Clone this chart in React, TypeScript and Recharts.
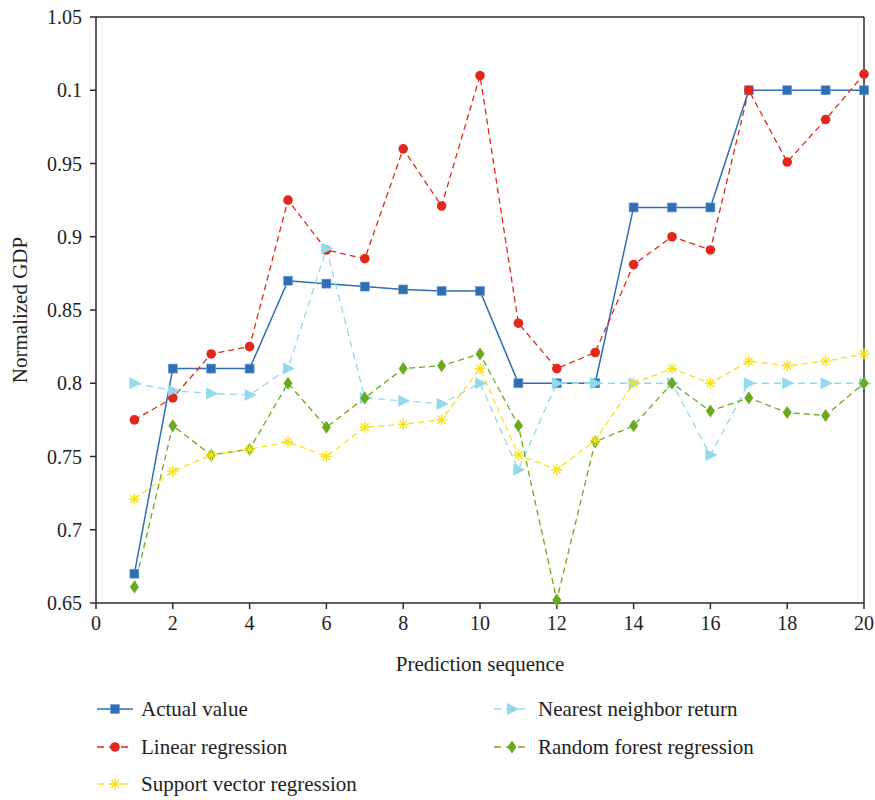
import React from "react";
import {
  LineChart,
  Line,
  XAxis,
  YAxis,
  ReferenceLine,
} from "recharts";

const sequence = [1, 2, 3, 4, 5, 6, 7, 8, 9, 10, 11, 12, 13, 14, 15, 16, 17, 18, 19, 20];
const actualValue = [0.67, 0.81, 0.81, 0.81, 0.87, 0.868, 0.866, 0.864, 0.863, 0.863, 0.8, 0.8, 0.8, 0.92, 0.92, 0.92, 1.0, 1.0, 1.0, 1.0];
const linearRegression = [0.775, 0.79, 0.82, 0.825, 0.925, 0.891, 0.885, 0.96, 0.921, 1.01, 0.841, 0.81, 0.821, 0.881, 0.9, 0.891, 1.0, 0.951, 0.98, 1.011];
const nearestNeighbor = [0.8, 0.795, 0.793, 0.792, 0.81, 0.892, 0.79, 0.788, 0.786, 0.8, 0.741, 0.8, 0.8, 0.8, 0.8, 0.751, 0.8, 0.8, 0.8, 0.8];
const randomForest = [0.661, 0.771, 0.751, 0.755, 0.8, 0.77, 0.79, 0.81, 0.812, 0.82, 0.771, 0.652, 0.76, 0.771, 0.8, 0.781, 0.79, 0.78, 0.778, 0.8];
const supportVector = [0.721, 0.74, 0.751, 0.755, 0.76, 0.75, 0.77, 0.772, 0.775, 0.81, 0.751, 0.741, 0.761, 0.8, 0.81, 0.8, 0.815, 0.812, 0.815, 0.82];

const xTicks = [0, 2, 4, 6, 8, 10, 12, 14, 16, 18, 20];
const yTicks = [0.65, 0.7, 0.75, 0.8, 0.85, 0.9, 0.95, 1.0, 1.05];
const yTickLabels = ["0.65", "0.7", "0.75", "0.8", "0.85", "0.9", "0.95", "0.1", "1.05"];

const data = sequence.map((s, i) => ({
  seq: s,
  actual: actualValue[i],
  linear: linearRegression[i],
  knn: nearestNeighbor[i],
  forest: randomForest[i],
  svr: supportVector[i],
}));

const FONT = '"Liberation Serif", "DejaVu Serif", serif';
const AXIS = "#2b2b2b";
const TEXT = "#1e1e1e";

const C_ACTUAL = "#2f6db5";
const C_LINEAR = "#e0291b";
const C_KNN = "#92d9ec";
const C_FOREST = "#6aab1b";
const C_SVR = "#f6e21c";

type Shape = "square" | "circle" | "triangle" | "diamond" | "star";

function Marker({ shape, cx, cy, color }: { shape: Shape; cx: number; cy: number; color: string }) {
  if (shape === "square") {
    return <rect x={cx - 4.5} y={cy - 4.5} width={9} height={9} fill={color} stroke="#6b9fd6" strokeWidth={0.6} />;
  }
  if (shape === "circle") {
    return <circle cx={cx} cy={cy} r={4.8} fill={color} />;
  }
  if (shape === "triangle") {
    return <polygon points={`${cx - 5},${cy - 6} ${cx + 7},${cy} ${cx - 5},${cy + 6}`} fill={color} />;
  }
  if (shape === "diamond") {
    return <polygon points={`${cx},${cy - 6.5} ${cx + 4.5},${cy} ${cx},${cy + 6.5} ${cx - 4.5},${cy}`} fill={color} />;
  }
  const r = 5.5;
  return (
    <g stroke={color} strokeWidth={1.4}>
      <line x1={cx - r} y1={cy} x2={cx + r} y2={cy} />
      <line x1={cx} y1={cy - r} x2={cx} y2={cy + r} />
      <line x1={cx - r * 0.7} y1={cy - r * 0.7} x2={cx + r * 0.7} y2={cy + r * 0.7} />
      <line x1={cx - r * 0.7} y1={cy + r * 0.7} x2={cx + r * 0.7} y2={cy - r * 0.7} />
    </g>
  );
}

function makeDot(shape: Shape, color: string) {
  return (props: any) => {
    const { cx, cy, index } = props;
    if (cx == null || cy == null) return <g key={index} />;
    return <Marker key={`${shape}-${index}`} shape={shape} cx={cx} cy={cy} color={color} />;
  };
}

const legendItems: { name: string; color: string; shape: Shape; dashed: boolean; left: number; top: number }[] = [
  { name: "Actual value", color: C_ACTUAL, shape: "square", dashed: false, left: 97, top: 698 },
  { name: "Nearest neighbor return", color: C_KNN, shape: "triangle", dashed: true, left: 494, top: 698 },
  { name: "Linear regression", color: C_LINEAR, shape: "circle", dashed: true, left: 97, top: 736 },
  { name: "Random forest regression", color: C_FOREST, shape: "diamond", dashed: true, left: 494, top: 736 },
  { name: "Support vector regression", color: C_SVR, shape: "star", dashed: true, left: 97, top: 773 },
];

export default function App() {
  return (
    <div style={{ position: "absolute", left: 0, top: 0, width: 875, height: 800, background: "#fff", fontFamily: FONT }}>
      <LineChart width={875} height={800} data={data} margin={{ top: 17, right: 11, left: 0, bottom: 167 }}>
        <XAxis
          dataKey="seq"
          type="number"
          domain={[0, 20]}
          ticks={xTicks}
          height={30}
          stroke={AXIS}
          strokeWidth={1.5}
          tickSize={6}
          tickMargin={7}
          tick={{ fill: TEXT, fontSize: 20, fontFamily: FONT }}
          label={{ value: "Prediction sequence", position: "insideBottom", offset: -38, fill: TEXT, fontSize: 21, fontFamily: FONT }}
        />
        <YAxis
          type="number"
          domain={[0.65, 1.05]}
          ticks={yTicks}
          width={96}
          stroke={AXIS}
          strokeWidth={1.5}
          tickSize={6}
          tickMargin={8}
          interval={0}
          tickFormatter={(v: number) => yTickLabels[yTicks.indexOf(v)] ?? String(v)}
          tick={{ fill: TEXT, fontSize: 20, fontFamily: FONT }}
          label={{ value: "Normalized GDP", angle: -90, position: "insideLeft", offset: 20, fill: TEXT, fontSize: 21, fontFamily: FONT, style: { textAnchor: "middle" } }}
        />
        <ReferenceLine y={1.05} stroke={AXIS} strokeWidth={1.5} />
        <ReferenceLine x={20} stroke={AXIS} strokeWidth={1.5} />
        <Line dataKey="actual" stroke={C_ACTUAL} strokeWidth={1.5} dot={makeDot("square", C_ACTUAL)} isAnimationActive={false} />
        <Line dataKey="linear" stroke={C_LINEAR} strokeWidth={1.3} strokeDasharray="6 4" dot={makeDot("circle", C_LINEAR)} isAnimationActive={false} />
        <Line dataKey="knn" stroke={C_KNN} strokeWidth={1.3} strokeDasharray="7 5" dot={makeDot("triangle", C_KNN)} isAnimationActive={false} />
        <Line dataKey="forest" stroke={C_FOREST} strokeWidth={1.3} strokeDasharray="6 4" dot={makeDot("diamond", C_FOREST)} isAnimationActive={false} />
        <Line dataKey="svr" stroke={C_SVR} strokeWidth={1.3} strokeDasharray="6 4" dot={makeDot("star", C_SVR)} isAnimationActive={false} />
      </LineChart>
      {legendItems.map((it) => (
        <div key={it.name} style={{ position: "absolute", left: it.left, top: it.top, display: "flex", alignItems: "center", height: 22 }}>
          <svg width={38} height={22}>
            <line x1={0} y1={11} x2={36} y2={11} stroke={it.color} strokeWidth={1.5} strokeDasharray={it.dashed ? "7 5" : undefined} />
            <Marker shape={it.shape} cx={18} cy={11} color={it.color} />
          </svg>
          <span style={{ marginLeft: 6, fontSize: 21, color: TEXT, fontFamily: FONT, whiteSpace: "nowrap" }}>{it.name}</span>
        </div>
      ))}
    </div>
  );
}
